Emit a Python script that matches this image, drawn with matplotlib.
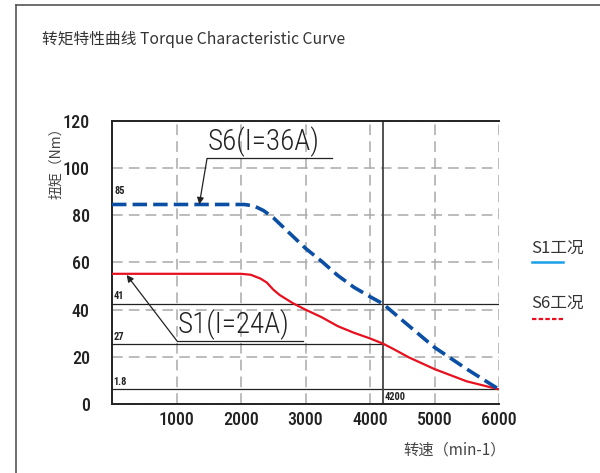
import matplotlib
matplotlib.use("Agg")
import matplotlib.pyplot as plt
from matplotlib.lines import Line2D

# speed (min-1) / torque (Nm)
s1_speed = [0, 2000, 2150, 2300, 2400, 2500, 2600, 2800, 3000, 3250, 3500, 3750, 4000, 4200, 4350, 4600, 5000, 5500, 6000]
s1_torque = [55.2, 55.2, 54.8, 53.2, 51.5, 48.5, 46.2, 42.8, 40.0, 36.8, 33.0, 30.2, 27.8, 25.6, 23.5, 19.8, 14.8, 9.6, 6.2]

s6_speed = [0, 2050, 2200, 2350, 2500, 2750, 3000, 3250, 3500, 3750, 4000, 4200, 4500, 5000, 5500, 6000]
s6_torque = [84.6, 84.6, 84.0, 82.0, 79.0, 72.5, 66.0, 60.5, 54.5, 49.5, 45.5, 42.5, 35.5, 24.0, 14.8, 6.2]

x_ticks = [1000, 2000, 3000, 4000, 5000, 6000]
y_ticks = [0, 20, 40, 60, 80, 100, 120]

# marker lines with their printed labels
ref_levels = [42.5, 25.3, 6.2]
ref_labels = ["41", "27", "1.8"]
ref_ends = [6000, 4200, 6000]
corner_speed = 4200

cjk = ["Noto Sans CJK SC", "DejaVu Sans"]
narrow = ["Roboto Condensed", "DejaVu Sans"]

fig = plt.figure(figsize=(6, 4.73), dpi=100)
ax = fig.add_axes([0.1867, 0.1459, 0.645, 0.5983])

# outer frame (left + top edges)
fig.add_artist(Line2D([16/600, 16/600], [0, 1 - 5/473], color="#555555", lw=1.2))
fig.add_artist(Line2D([16/600, 1], [1 - 5/473, 1 - 5/473], color="#555555", lw=1.2))

fig.text(42/600, 1 - 40/473, "转矩特性曲线 Torque Characteristic Curve", family=cjk,
         fontsize=11.3, color="#333333", va="center", ha="left")

ax.set_xlim(0, 6000)
ax.set_ylim(0, 120)
ax.set_xticks(x_ticks)
ax.set_yticks(y_ticks)
ax.tick_params(length=0, labelsize=13, colors="#222222", pad=16)
ax.tick_params(axis="x", pad=5)
for lab in ax.get_xticklabels() + ax.get_yticklabels():
    lab.set_family(narrow)
    lab.set_fontweight("medium")
ax.grid(True, color="#aaaaaa", lw=1.1, linestyle=(0, (7, 4)))
ax.set_axisbelow(True)
ax.spines["right"].set_visible(False)
for sp in ["left", "top", "bottom"]:
    ax.spines[sp].set_color("#222222")
    ax.spines[sp].set_linewidth(1.4)

for lvl, lab, end in zip(ref_levels, ref_labels, ref_ends):
    ax.plot([0, end], [lvl, lvl], color="#222222", lw=0.9, zorder=2)
    ax.text(20, lvl + 1.0, lab, family=narrow, fontsize=7.5, fontweight="bold",
            color="#222222", va="bottom", ha="left")
ax.axvline(corner_speed, color="#444444", lw=1.3, zorder=2)
ax.text(corner_speed + 20, 0.8, "4200", family=narrow, fontsize=7.5, fontweight="bold",
        color="#222222", va="bottom", ha="left")
ax.text(40, s6_torque[0] + 3.5, "85", family=narrow, fontsize=7.5, fontweight="bold",
        color="#222222", va="bottom", ha="left")

ax.plot(s1_speed, s1_torque, color="#e8101e", lw=1.6, zorder=3)
ax.plot(s6_speed, s6_torque, color="#0a4fa3", lw=2.6, dashes=(4, 1.7), zorder=3)

# callouts
ax.plot([1473, 3405], [104.1, 104.1], color="#222222", lw=0.9)
ax.annotate("", xy=(1353, 84.6), xytext=(1473, 104.1),
            arrowprops=dict(arrowstyle="-|>", color="#222222", lw=0.9,
                            mutation_scale=10, shrinkA=0, shrinkB=0))
ax.text(1480, 104.8, "S6(I=36A)", family=narrow, fontweight="light", fontsize=21,
        color="#222222", va="bottom", ha="left")

ax.plot([1008, 2961], [26.7, 26.7], color="#222222", lw=0.9)
ax.annotate("", xy=(227, 54.7), xytext=(1008, 26.7),
            arrowprops=dict(arrowstyle="-|>", color="#222222", lw=0.9,
                            mutation_scale=10, shrinkA=0, shrinkB=0))
ax.text(1010, 27.3, "S1(I=24A)", family=narrow, fontweight="light", fontsize=21,
        color="#222222", va="bottom", ha="left")

fig.text(56/600, 1 - 160/473, "扭矩（Nm）", family=cjk, fontsize=10, color="#444444",
         rotation=90, ha="center", va="center")
fig.text(455/600, 1 - 450/473, "转速（min-1）", family=cjk, fontsize=11, color="#444444",
         ha="center", va="center")

# legend on the right
fig.text(531/600, 1 - 248/473, "S1工况", family=cjk, fontsize=12, color="#333333",
         ha="left", va="center")
fig.add_artist(Line2D([532/600, 563/600], [1 - 262/473] * 2, color="#1aa0e6", lw=1.8))
fig.text(531/600, 1 - 303/473, "S6工况", family=cjk, fontsize=12, color="#333333",
         ha="left", va="center")
fig.add_artist(Line2D([532/600, 563/600], [1 - 319/473] * 2, color="#e8101e", lw=1.6,
                      dashes=(2, 1)))

fig.savefig("out.png", dpi=100)
